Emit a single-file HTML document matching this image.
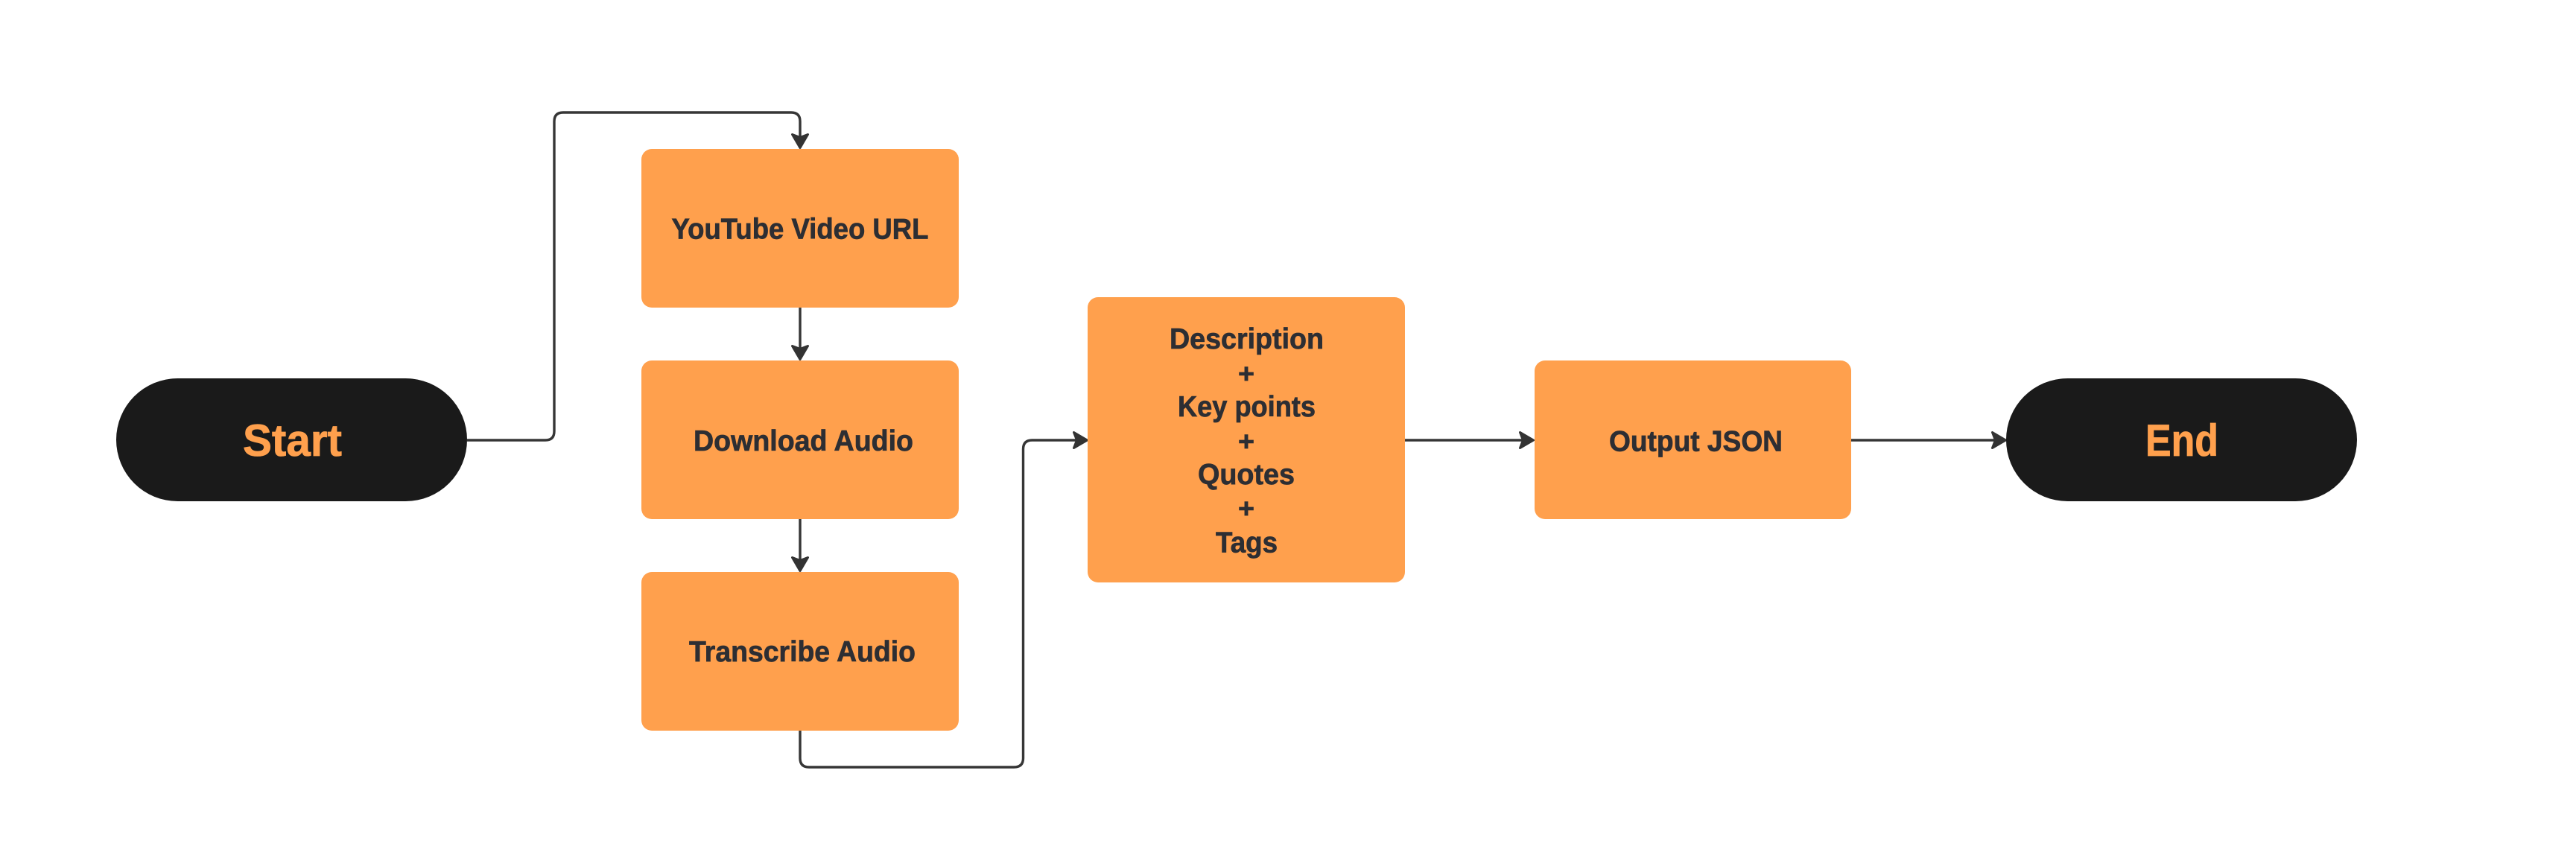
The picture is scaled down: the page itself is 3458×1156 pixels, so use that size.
<!DOCTYPE html>
<html>
<head>
<meta charset="utf-8">
<style>
html,body{margin:0;padding:0;background:#fff;}
svg{display:block;}
text{font-family:"Liberation Sans",sans-serif;font-weight:700;fill:#2d2e33;font-size:39px;stroke:#2d2e33;stroke-width:.7px;}
.t{fill:#ffa04d;stroke:#ffa04d;font-size:60px;stroke-width:.8px;}
.p{font-size:36px;}
</style>
</head>
<body>
<svg width="3458" height="1156" viewBox="0 0 3458 1156" xmlns="http://www.w3.org/2000/svg">
<rect width="3458" height="1156" fill="#fff"/>
<defs>
<path id="ah" d="M-1.5 0 L-19.5 -10.5 L-15.5 0 L-19.5 10.5 Z" fill="#333" stroke="#333" stroke-width="3" stroke-linejoin="round"/>
</defs>
<g fill="none" stroke="#363636" stroke-width="3.4">
<path d="M627 591 H732 Q744 591 744 579 V163 Q744 151 756 151 H1062 Q1074 151 1074 163 V190"/>
<path d="M1074 412 V475"/>
<path d="M1074 697 V760"/>
<path d="M1074 980 V1018 Q1074 1030 1086 1030 H1361 Q1373.5 1030 1373.5 1018 V603 Q1373.5 591 1385.5 591 H1450"/>
<path d="M1886 591 H2050"/>
<path d="M2485 591 H2684"/>
</g>
<use href="#ah" transform="translate(1074 200) rotate(90)"/>
<use href="#ah" transform="translate(1074 484) rotate(90)"/>
<use href="#ah" transform="translate(1074 768) rotate(90)"/>
<use href="#ah" transform="translate(1461 591)"/>
<use href="#ah" transform="translate(2060 591)"/>
<use href="#ah" transform="translate(2694 591)"/>
<rect x="156" y="508" width="471" height="165" rx="82.5" fill="#1a1a1a"/>
<rect x="2693" y="508" width="471" height="165" rx="82.5" fill="#1a1a1a"/>
<g fill="#ffa04d">
<rect x="861" y="200" width="426" height="213" rx="14"/>
<rect x="861" y="484" width="426" height="213" rx="14"/>
<rect x="861" y="768" width="426" height="213" rx="14"/>
<rect x="1460" y="399" width="426" height="383" rx="14"/>
<rect x="2060" y="484" width="425" height="213" rx="14"/>
</g>
<text class="t" x="326" y="612" textLength="133" lengthAdjust="spacingAndGlyphs">Start</text>
<text class="t" x="2880" y="612" textLength="98" lengthAdjust="spacingAndGlyphs">End</text>
<text x="901.5" y="320.5" textLength="345" lengthAdjust="spacingAndGlyphs">YouTube Video URL</text>
<text x="931" y="605" textLength="295" lengthAdjust="spacingAndGlyphs">Download Audio</text>
<text x="925" y="888" textLength="304" lengthAdjust="spacingAndGlyphs">Transcribe Audio</text>
<text x="1570" y="468" textLength="207" lengthAdjust="spacingAndGlyphs">Description</text>
<text class="p" x="1662" y="514" textLength="22" lengthAdjust="spacingAndGlyphs">+</text>
<text x="1581" y="559" textLength="185" lengthAdjust="spacingAndGlyphs">Key points</text>
<text class="p" x="1662" y="605" textLength="22" lengthAdjust="spacingAndGlyphs">+</text>
<text x="1608" y="650" textLength="130" lengthAdjust="spacingAndGlyphs">Quotes</text>
<text class="p" x="1662" y="695" textLength="22" lengthAdjust="spacingAndGlyphs">+</text>
<text x="1632" y="741.5" textLength="83" lengthAdjust="spacingAndGlyphs">Tags</text>
<text x="2160" y="605.5" textLength="233" lengthAdjust="spacingAndGlyphs">Output JSON</text>
</svg>
</body>
</html>
